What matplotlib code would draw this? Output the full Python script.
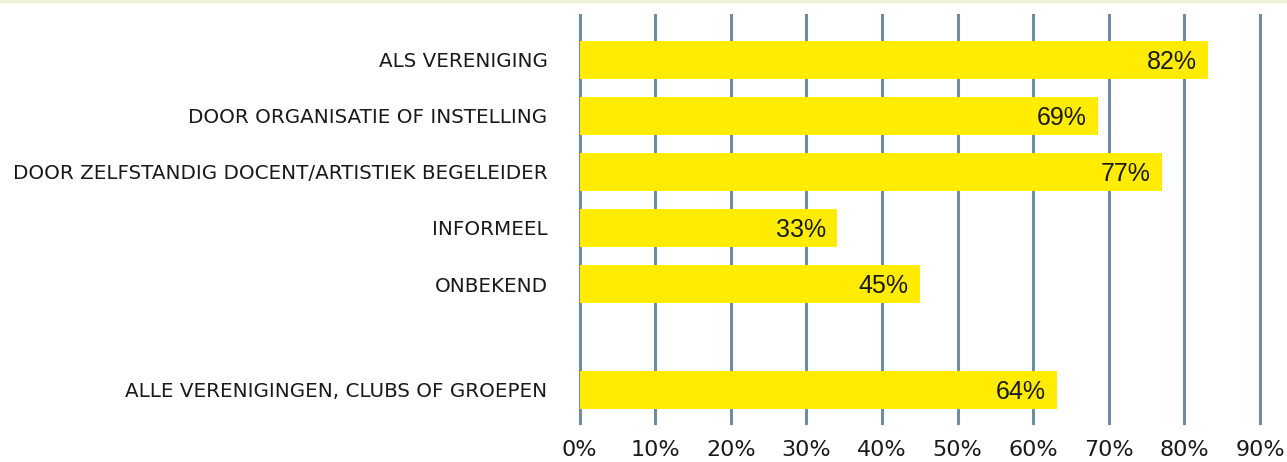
import matplotlib.pyplot as plt
import matplotlib.lines as mlines
import numpy as np

categories = ["ALS VERENIGING",
              "DOOR ORGANISATIE OF INSTELLING",
              "DOOR ZELFSTANDIG DOCENT/ARTISTIEK BEGELEIDER",
              "INFORMEEL",
              "ONBEKEND",
              "ALLE VERENIGINGEN, CLUBS OF GROEPEN"]
values = [83.1, 68.6, 77.1, 34.1, 45.0, 63.2]
value_labels = ["82%", "69%", "77%", "33%", "45%", "64%"]
positions = [0, 1, 2, 3, 4, 5.89]
ticks = [0, 10, 20, 30, 40, 50, 60, 70, 80, 90]

yellow = "#FFEC00"
grid_col = "#6F8D9C"

plt.rcParams['font.family'] = ['DejaVu Sans']

fig = plt.figure(figsize=(12.87, 4.62), dpi=100)
ax = fig.add_axes([579.5/1287, 39/462, (1260-579.5)/1287, (423-15)/462])

ax.barh(positions, values, height=0.68, color=yellow, zorder=2)
for p, v, lab in zip(positions, values, value_labels):
    ax.text(v - 1.5, p + 0.04, lab, ha="right", va="center", fontsize=18,
            family=["Liberation Sans", "DejaVu Sans"], color="#1a1a1a", zorder=3)

ax.set_xlim(0, 90)
ax.set_ylim(5.89 + 0.59, -0.80)
ax.set_xticks(ticks)
ax.set_xticklabels([f"{t}%" for t in ticks], fontsize=16, color="#1a1a1a")
ax.set_yticks(positions)
ax.set_yticklabels(categories, fontsize=14.3, color="#1a1a1a")
ax.tick_params(axis="x", length=0, pad=12)
ax.tick_params(axis="y", length=0, pad=23)
for t in ticks:
    ax.axvline(t, color=grid_col, lw=2.2, zorder=1, clip_on=False)
for s in ax.spines.values():
    s.set_visible(False)

# thin light band at the very top
fig.add_artist(mlines.Line2D([0, 1], [1 - 1/462, 1 - 1/462], color="#EAF2D7", lw=2.5,
                             transform=fig.transFigure))

fig.savefig("out.png", dpi=100)
